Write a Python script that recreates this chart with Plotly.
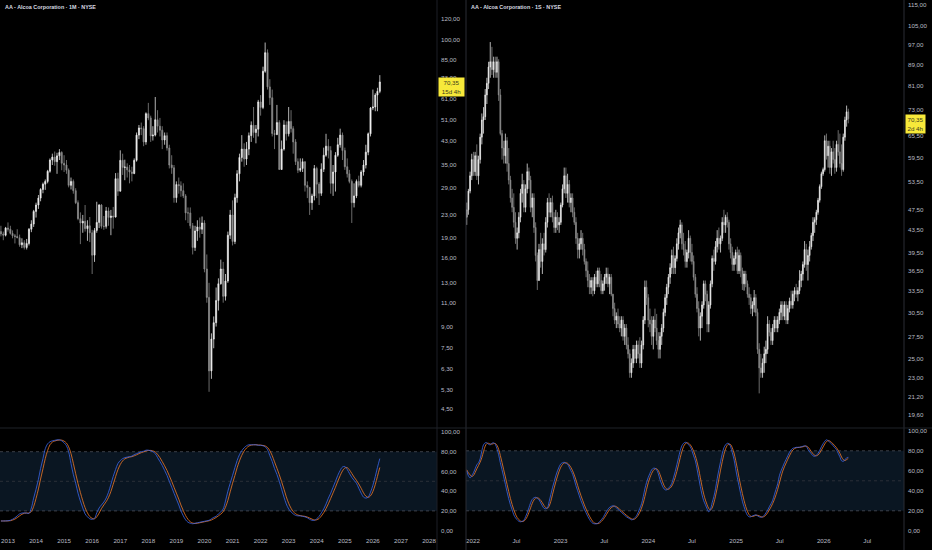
import math
import pandas as pd
import plotly.graph_objects as go

# ---------------- monthly bars (left pane, AA 1M) ----------------
m_dates = pd.date_range("2012-10-01", periods=163, freq="MS")

m_open = [20.0, 19.6, 19.4,
          20.6, 20.4, 19.7, 19.3, 19.2, 19.0, 17.9, 18.2, 17.5, 18.1, 20.4, 21.3,
          23.7, 25.0, 26.5, 28.5, 29.8, 30.5, 33.2, 36.5, 37.4, 36.0, 37.8, 38.9,
          35.5, 35.0, 33.5, 29.5, 30.5, 28.2, 25.5, 22.3, 21.5, 21.8, 20.5, 21.0,
          19.8, 16.4, 20.2, 21.6, 25.0, 20.9, 20.9, 23.8, 22.5, 22.8, 22.6, 31.2,
          28.1, 36.4, 34.3, 34.4, 33.6, 33.0, 32.6, 36.4, 45.0, 47.8, 47.5, 42.5,
          53.9, 52.0, 44.7, 45.0, 51.2, 48.5, 46.9, 43.2, 44.8, 40.4, 35.0, 34.2,
          26.6, 29.7, 29.4, 28.2, 27.0, 23.4, 23.4, 21.0, 17.5, 20.1, 20.8, 20.4,
          21.5, 14.6, 11.5, 6.2, 8.1, 9.3, 11.2, 12.9, 14.6, 11.6, 13.2, 19.4,
          23.0, 18.4, 26.6, 32.5, 37.3, 40.0, 36.8, 40.0, 44.8, 48.9, 46.0, 47.3,
          59.5, 56.8, 77.0, 90.0, 67.5, 61.6, 45.6, 45.2, 50.0, 33.7, 40.0, 49.0,
          45.5, 50.5, 47.5, 42.5, 36.0, 33.5, 34.0, 36.0, 29.5, 29.0, 25.5, 27.0,
          34.0, 29.8, 27.6, 33.8, 38.0, 41.0, 39.5, 30.0, 33.0, 38.0, 41.5, 45.0,
          39.5, 34.5, 32.5, 30.5, 25.5, 27.0, 30.5, 29.5, 33.0, 35.0, 39.0, 45.5,
          56.5, 57.0, 63.0, 65.0]
m_high = [21.0, 20.0, 20.8,
          21.6, 21.0, 20.2, 19.6, 20.4, 19.5, 18.9, 18.6, 18.8, 20.6, 22.0, 24.0,
          25.5, 27.2, 28.8, 30.2, 31.0, 33.6, 37.0, 38.5, 39.2, 38.8, 40.0, 39.3,
          38.0, 36.5, 34.0, 31.5, 31.0, 28.8, 26.0, 23.5, 23.0, 25.0, 22.0, 22.6,
          20.3, 20.6, 25.7, 25.2, 25.2, 22.8, 24.6, 24.5, 24.0, 24.6, 32.7, 32.8,
          39.6, 38.5, 36.6, 35.5, 35.0, 34.5, 37.0, 46.0, 49.0, 50.0, 48.5, 54.5,
          59.0, 53.0, 48.5, 62.0, 55.5, 52.0, 48.5, 46.0, 46.0, 41.5, 38.0, 35.0,
          30.5, 31.5, 30.5, 30.0, 27.4, 24.5, 24.5, 21.5, 21.0, 22.0, 22.5, 22.7,
          22.0, 16.5, 13.0, 8.5, 9.8, 12.5, 13.5, 15.8, 15.5, 14.0, 20.0, 24.0,
          26.0, 27.5, 33.5, 38.5, 45.0, 42.0, 42.5, 46.0, 50.5, 57.0, 49.0, 60.5,
          63.0, 80.0, 98.0, 92.5, 72.0, 66.0, 47.0, 58.0, 51.0, 43.0, 51.0, 50.5,
          57.0, 55.5, 48.5, 43.5, 37.0, 37.0, 37.0, 36.0, 30.5, 29.0, 27.5, 35.0,
          34.5, 30.3, 35.5, 40.5, 45.5, 43.5, 41.0, 35.0, 39.0, 44.0, 47.5, 46.0,
          40.5, 37.0, 33.6, 31.0, 30.0, 31.0, 32.0, 33.5, 36.5, 41.5, 46.0, 57.0,
          66.0, 64.0, 67.0, 74.5]
m_low = [19.2, 18.6, 19.2,
         20.0, 19.5, 18.9, 18.1, 18.9, 17.6, 17.4, 17.2, 17.2, 17.8, 19.9, 20.8,
         22.5, 24.2, 25.8, 27.6, 28.4, 30.0, 32.8, 35.0, 34.8, 32.5, 36.5, 33.5,
         33.0, 32.5, 29.0, 28.5, 27.5, 25.2, 22.0, 18.0, 19.8, 20.0, 18.5, 18.3,
         14.0, 15.5, 19.8, 20.6, 20.5, 20.3, 20.5, 21.0, 19.4, 20.5, 22.5, 27.0,
         28.0, 32.2, 30.8, 31.5, 30.0, 30.5, 32.4, 36.0, 43.5, 45.0, 41.0, 41.5,
         51.0, 42.5, 43.0, 44.5, 46.0, 44.5, 40.0, 41.5, 39.5, 34.0, 32.5, 25.5,
         25.5, 27.5, 26.8, 26.5, 22.0, 21.5, 20.5, 16.5, 17.0, 18.5, 19.0, 19.6,
         14.2, 11.0, 5.2, 5.8, 7.5, 9.0, 10.3, 12.8, 11.0, 11.2, 13.0, 18.8,
         17.8, 18.0, 25.5, 30.5, 36.0, 34.5, 35.0, 38.0, 42.5, 44.0, 42.0, 44.5,
         53.0, 56.0, 76.0, 66.0, 58.0, 44.5, 40.0, 45.0, 33.6, 33.6, 39.5, 43.0,
         44.5, 46.0, 38.5, 35.0, 32.7, 33.0, 33.0, 28.0, 26.5, 23.0, 24.0, 26.0,
         26.5, 25.0, 27.0, 33.0, 37.5, 37.0, 27.5, 27.0, 28.0, 37.5, 40.5, 36.5,
         33.6, 31.5, 30.0, 21.5, 24.5, 26.5, 29.0, 29.0, 32.0, 34.0, 38.0, 44.5,
         55.5, 55.0, 55.0, 64.0]
m_close = [19.6, 19.4, 20.6,
           20.4, 19.7, 19.3, 19.2, 19.0, 17.9, 18.2, 17.5, 18.1, 20.4, 21.3, 23.7,
           25.0, 26.5, 28.5, 29.8, 30.5, 33.2, 36.5, 37.4, 36.0, 37.8, 38.9, 35.5,
           35.0, 33.5, 29.5, 30.5, 28.2, 25.5, 22.3, 21.5, 21.8, 20.5, 21.0, 19.8,
           16.4, 20.2, 21.6, 25.0, 20.9, 20.9, 23.8, 22.5, 22.8, 22.6, 31.2, 28.1,
           36.4, 34.3, 34.4, 33.6, 33.0, 32.6, 36.4, 45.0, 47.8, 47.5, 42.5, 53.9,
           52.0, 44.7, 45.0, 51.2, 48.5, 46.9, 43.2, 44.8, 40.4, 35.0, 34.2, 26.6,
           29.7, 29.4, 28.2, 27.0, 23.4, 23.4, 21.0, 17.5, 20.1, 20.8, 20.4, 21.5,
           14.6, 11.5, 6.2, 8.1, 9.3, 11.2, 12.9, 14.6, 11.6, 13.2, 19.4, 23.0,
           18.4, 26.6, 32.5, 37.3, 40.0, 36.8, 40.0, 44.8, 48.9, 46.0, 47.3, 59.5,
           56.8, 77.0, 90.0, 67.5, 61.6, 45.6, 45.2, 50.0, 33.7, 40.0, 49.0, 45.5,
           50.5, 47.5, 42.5, 36.0, 33.5, 34.0, 36.0, 29.5, 29.0, 25.5, 27.0, 34.0,
           29.8, 27.6, 33.8, 38.0, 41.0, 39.5, 30.0, 33.0, 38.0, 41.5, 45.0, 39.5,
           34.5, 32.5, 30.5, 25.5, 27.0, 30.5, 29.5, 33.0, 35.0, 39.0, 45.5, 56.5,
           57.0, 63.0, 65.0, 70.35]

# Stochastic RSI (one value per month)
m_k = [9.8, 9.8, 9.9, 10, 10.5, 11.5, 13, 15, 17, 17.8,
       18, 17.8, 17.5, 23, 33, 42, 52, 63, 73, 83,
       88, 90, 91, 91.5, 92, 92, 91, 89, 86, 80,
       68, 57, 48, 38, 30, 23, 17, 14, 12, 11.5,
       12.5, 18, 23, 26, 29, 33, 39, 47, 55, 62,
       68, 71, 73, 74, 74.5, 75, 75.5, 77, 78, 79,
       80, 80.5, 81.5, 81.5, 81, 80, 78, 74, 70, 66,
       61, 56, 50, 44, 38, 32, 26, 20, 15, 11,
       8.5, 7.5, 7, 7.5, 8, 8.5, 9, 9.5, 10, 10.5,
       12, 13.5, 14.5, 17, 19, 22, 30, 40, 48, 56,
       64, 71, 77, 81, 84, 86, 87, 87, 87, 87,
       86.5, 86.5, 86, 85, 82, 76, 70, 63, 57, 50,
       42, 34, 27, 22, 19, 17, 15.5, 15, 15, 14.5,
       14, 13, 11.5, 10.5, 10.5, 12, 14.5, 18, 22, 27,
       33, 38, 44, 50, 56, 61, 64.5, 65, 62, 58,
       54, 51, 48, 43, 38, 34, 33, 34, 39, 46,
       55, 64, 73]
m_d = [9.8, 9.8, 9.8, 9.9, 10.1, 10.7, 11.7, 13.2, 15, 16.6,
       17.6, 17.9, 17.8, 19.4, 24.5, 32.7, 42.3, 52.3, 62.7, 73,
       81.3, 87, 89.7, 90.8, 91.5, 91.8, 91.7, 90.7, 88.7, 85,
       78, 68.3, 57.7, 47.7, 38.7, 30.3, 23.3, 18, 14.3, 12.5,
       12, 14, 17.8, 22.3, 26, 29.3, 33.7, 39.7, 47, 54.7,
       61.7, 67, 70.7, 72.7, 73.8, 74.5, 75, 75.8, 76.8, 78,
       79, 79.8, 80.7, 81.2, 81.3, 80.8, 79.7, 77.3, 74, 70,
       65.7, 61, 55.7, 50, 44, 38, 32, 26, 20.3, 15.3,
       11.5, 9, 7.7, 7.3, 7.5, 8, 8.5, 9, 9.5, 10,
       10.8, 12, 13.3, 15, 16.8, 19.3, 23.7, 30.7, 39.3, 48,
       56, 63.7, 70.7, 76.3, 80.7, 83.7, 85.7, 86.7, 87, 87,
       86.8, 86.7, 86.3, 85.8, 84.3, 81, 76, 69.7, 63.3, 56.7,
       49.7, 42, 34.3, 27.7, 22.7, 19.3, 17.2, 15.8, 15.2, 14.8,
       14.5, 13.8, 12.8, 11.7, 10.8, 11, 12.3, 14.8, 18.2, 22.3,
       27.3, 32.7, 38.3, 44, 50, 55.7, 60.5, 63.5, 63.8, 61.7,
       58, 54.3, 51, 47.3, 43, 38.3, 35, 33.7, 35.3, 39.7,
       46.7, 55, 64]

# ---------------- weekly bars (right pane, AA 1S) ----------------
w_dates = pd.date_range("2021-12-06", periods=228, freq="7D")

w_open = [46, 47.5, 51.5, 55, 59, 56, 60, 55, 59, 65,
          70, 71, 78, 82, 88, 90, 87, 90, 86, 90,
          78, 66, 62, 60, 64, 58, 54, 50, 48, 45,
          42, 43, 46, 51, 53, 48, 52, 56, 54, 48,
          50, 44, 39, 35, 40, 38, 41, 40, 45, 49,
          47, 49, 46, 44, 46, 44.5, 45, 48.5, 52, 55,
          51, 53, 49, 50, 47, 45, 42, 40, 41, 42,
          40, 38, 36.5, 35, 34, 35, 33.5, 35.5, 34.5, 36.5,
          35, 33.5, 34.5, 35.5, 36, 34.5, 35.5, 33, 31, 29.5,
          30, 29, 28.5, 29.5, 27.5, 28.5, 26.5, 25.5, 23.5, 24.5,
          26, 25, 26.5, 25.5, 24.5, 26.5, 29.5, 34, 32.5, 29.5,
          29, 27.5, 29.5, 28.5, 27, 26, 27.5, 28.5, 30.5, 32.5,
          34, 35.5, 37, 39, 37, 38.5, 41, 43, 44.5, 41,
          40, 38, 39.5, 42, 39.5, 38, 35.5, 33, 31, 28.5,
          30, 31.5, 34.5, 33, 29, 31.5, 34.5, 38.5, 38, 40.5,
          42, 41, 42, 45, 44.5, 46, 45, 41, 39.5, 37.5,
          38.5, 39.5, 36.5, 39, 36.5, 34.5, 36, 34.5, 33, 32.5,
          31, 31.5, 32.5, 30.5, 26, 24, 23.5, 24.5, 25.5, 26,
          29, 28, 27, 28.5, 29.5, 28.5, 29.5, 30.5, 31.5, 30,
          31.5, 29.5, 31, 32, 31.5, 33, 33.5, 33, 33.5, 35,
          36, 37.5, 40, 37.5, 39, 40.5, 42.5, 45, 45.5, 47,
          49.5, 52.5, 55.5, 56.5, 64, 60, 62.5, 57, 61, 59,
          57, 63, 61, 58, 56.5, 65, 70, 72.5]
w_high = [49, 52, 56, 60.5, 61, 61, 63, 60, 66, 72,
          74, 80, 84, 90, 98, 96, 92, 92, 92, 91,
          80, 67, 64, 66, 65, 62, 55, 52, 51, 47,
          44, 47, 52, 55.5, 54, 53, 58, 57, 55, 51,
          51, 45, 39.5, 41, 43, 42, 43, 46, 50, 51,
          50, 50.5, 47, 47.5, 47, 46, 49, 53, 57, 57,
          55.5, 54, 51, 51, 48, 46, 43, 42, 43.5, 43,
          41, 38.5, 38, 36, 35.5, 35.5, 36, 36.5, 37, 37,
          36, 35, 36, 37, 37, 36, 36, 33, 31.8, 30.5,
          31, 30, 30, 30, 29, 29, 27.4, 26, 25, 26.5,
          26.5, 27, 27, 27.4, 27, 30, 35, 35, 33, 31,
          30, 30, 31, 30.3, 28, 28, 29, 31, 33, 34.5,
          36, 37.7, 40, 40.5, 39, 42, 44, 45.5, 45, 43,
          41.5, 40, 43.5, 42.5, 41, 39, 36, 34, 32, 30.5,
          32, 35, 35, 33.5, 32, 35, 39, 40, 41.5, 43.5,
          44, 42.5, 46, 47.5, 46.5, 47, 45.5, 42, 40.5, 39,
          40, 40.5, 40, 39.5, 37, 36.5, 36.5, 35, 34, 33,
          32, 33.6, 33, 31, 26.7, 25.5, 25, 26.3, 27, 30,
          29.5, 28.5, 29, 30, 30, 30, 31, 32, 32, 32,
          32, 31.5, 32.5, 33.5, 33.5, 34, 34.5, 34, 36.6, 36.5,
          38, 41.5, 41, 40, 41.5, 43, 46, 46, 47.5, 50,
          53, 56, 57, 65.5, 66, 64, 64, 62, 64, 62,
          64, 67, 66, 63, 66, 71, 74.5, 73.5]
w_low = [44.5, 46.5, 51, 54, 55, 55, 54, 53, 58, 63,
         66, 70, 75, 80, 84, 85, 84, 84, 84, 76,
         65.5, 59, 58, 58, 56, 53, 49, 47, 44, 41,
         40, 42, 45, 49, 47, 47, 51, 52, 47, 46,
         43, 38, 33.6, 35, 37, 36, 39, 39.5, 44, 46,
         46, 45, 43, 43, 43.5, 43, 44.5, 48, 51, 50,
         49, 48, 47, 46, 44.5, 41, 38.5, 38.5, 40, 39,
         37.5, 35.5, 34, 33, 33, 32.7, 33, 34, 34, 34,
         33, 33, 33.5, 34.5, 34, 33, 32.7, 30, 29, 28.5,
         28.5, 28, 27.5, 27, 26.5, 26, 25, 23, 23, 24,
         24.5, 24.5, 25, 24, 24, 26, 29, 31.5, 28.6, 28,
         26.5, 26, 28, 26.5, 25, 25, 26.5, 28, 30, 31.5,
         33, 34.5, 36, 36, 36, 38, 40, 42, 40, 39,
         37, 37, 38.5, 38, 37.5, 35, 32.5, 30.5, 27.5, 27,
         28.5, 31, 32, 28, 28, 31, 34, 36.5, 37.5, 39.5,
         40, 39.5, 41.5, 43, 43, 44, 40, 38.5, 36.5, 36.5,
         37.5, 36, 36, 35.5, 33.6, 33.5, 34, 32.5, 31.5, 30.3,
         30, 30.5, 30, 25.5, 21.5, 23, 23, 23.5, 24.5, 25.5,
         27.5, 26.5, 26.5, 28, 28, 28, 29, 29.5, 29.5, 29.5,
         29, 29, 30.5, 31, 31, 32, 32.5, 32, 33, 34,
         35, 37, 36.5, 35, 38, 40, 41.5, 43, 44.5, 46.5,
         49, 52, 55, 56, 59, 57, 55.5, 55, 58, 55.5,
         56, 60, 57, 55, 56, 64, 68, 69]
w_close = [47.5, 51.5, 55, 59, 56, 60, 55, 59, 65, 70,
           71, 78, 82, 88, 90, 87, 90, 86, 90, 78,
           66, 62, 60, 64, 58, 54, 50, 48, 45, 42,
           43, 46, 51, 53, 48, 52, 56, 54, 48, 50,
           44, 39, 35, 40, 38, 41, 40, 45, 49, 47,
           49, 46, 44, 46, 44.5, 45, 48.5, 52, 55, 51,
           53, 49, 50, 47, 45, 42, 40, 41, 42, 40,
           38, 36.5, 35, 34, 35, 33.5, 35.5, 34.5, 36.5, 35,
           33.5, 34.5, 35.5, 36, 34.5, 35.5, 33, 31, 29.5, 30,
           29, 28.5, 29.5, 27.5, 28.5, 26.5, 25.5, 23.5, 24.5, 26,
           25, 26.5, 25.5, 24.5, 26.5, 29.5, 34, 32.5, 29.5, 29,
           27.5, 29.5, 28.5, 27, 26, 27.5, 28.5, 30.5, 32.5, 34,
           35.5, 37, 39, 37, 38.5, 41, 43, 44.5, 41, 40,
           38, 39.5, 42, 39.5, 38, 35.5, 33, 31, 28.5, 30,
           31.5, 34.5, 33, 29, 31.5, 34.5, 38.5, 38, 40.5, 42,
           41, 42, 45, 44.5, 46, 45, 41, 39.5, 37.5, 38.5,
           39.5, 36.5, 39, 36.5, 34.5, 36, 34.5, 33, 32.5, 31,
           31.5, 32.5, 30.5, 26, 24, 23.5, 24.5, 25.5, 26, 29,
           28, 27, 28.5, 29.5, 28.5, 29.5, 30.5, 31.5, 30, 31.5,
           29.5, 31, 32, 31.5, 33, 33.5, 33, 33.5, 35, 36,
           37.5, 40, 37.5, 39, 40.5, 42.5, 45, 45.5, 47, 49.5,
           52.5, 55.5, 56.5, 64, 60, 62.5, 57, 61, 59, 57,
           63, 61, 58, 56.5, 65, 70, 72.5, 70.35]

# Stochastic RSI (one value per week)
w_k = [60, 55, 53, 55, 58, 62, 66, 68, 72, 80,
       86, 88, 88, 86.5, 86, 87.5, 88, 86.5, 82, 76,
       68, 61, 54, 46.5, 39, 32, 26, 21, 16, 13,
       11, 9.5, 9, 9.5, 10.5, 14, 18, 23, 28, 31.5,
       33, 33.5, 32.5, 31, 28, 25, 22.5, 22, 23, 29,
       36, 43, 49, 55, 60, 64, 67, 68, 68.5, 67.5,
       66.5, 63.5, 60, 56.5, 51, 45, 40, 35, 30, 26,
       21.5, 18, 14.5, 11.5, 9, 7.5, 7, 7, 7.5, 9,
       11, 13, 16, 19, 21.5, 23.5, 24.5, 25, 24.5, 23,
       21.5, 20, 18.5, 17, 15.5, 14, 13, 12, 11, 11.5,
       13, 15, 18.5, 22.5, 27, 34, 42, 48.5, 53.5, 57.5,
       61, 62.5, 62.5, 61, 57, 51, 46.5, 43, 41, 41,
       42.5, 44.5, 47.5, 53, 59, 66, 73, 80, 85, 87.5,
       88.5, 88, 86, 84, 80, 75, 70, 62, 53, 44,
       36, 30, 26, 22, 19, 21.5, 28, 34, 42, 52,
       61, 69, 77, 83, 86, 87.5, 87, 84, 78, 71.5,
       62, 53, 45, 37, 29.5, 24, 19, 15.5, 14, 14,
       15, 15.5, 16, 15, 14, 13.5, 14, 15.5, 18, 20.5,
       24, 27, 30.5, 36, 41.5, 47, 55, 60, 64, 68,
       71.5, 75, 78.5, 81, 82.5, 83, 83.5, 83.5, 83.5, 84,
       84.5, 85, 84.5, 81.5, 79, 77, 75, 74.5, 75.5, 77.5,
       80.5, 84, 87, 89.5, 91, 90, 88.5, 87, 85, 83,
       81, 77.5, 74, 70, 69.5, 71, 73, 73.5]
w_d = [61, 58, 56, 54.3, 55.3, 58.3, 62, 65.3, 68.7, 73.3,
       79.3, 84.7, 87.3, 87.5, 86.8, 86.7, 87.2, 87.3, 85.5, 81.5,
       75.3, 68.3, 61, 53.8, 46.5, 39.2, 32.3, 26.3, 21, 16.7,
       13.3, 11.2, 9.8, 9.3, 9.7, 11.3, 14.2, 18.3, 23, 27.5,
       30.8, 32.7, 33, 32.3, 30.5, 28, 25.2, 23.2, 22.5, 24.7,
       29.3, 36, 42.7, 49, 54.7, 59.7, 63.7, 66.3, 67.8, 68,
       67.5, 65.8, 63.3, 60, 55.8, 50.8, 45.3, 40, 35, 30.3,
       25.8, 21.8, 18, 14.7, 11.7, 9.3, 7.8, 7.2, 7.2, 7.8,
       9.2, 11, 13.3, 16, 18.8, 21.3, 23.2, 24.3, 24.7, 24.2,
       23, 21.5, 20, 18.5, 17, 15.5, 14.2, 13, 12, 11.5,
       11.8, 13.2, 15.5, 18.7, 22.7, 27.8, 34.3, 41.5, 48, 53.2,
       57.3, 60.3, 62, 62, 60.2, 56.3, 51.5, 46.8, 43.5, 41.7,
       41.5, 42.7, 44.8, 48.3, 53.2, 59.3, 66, 73, 79.3, 84.2,
       87, 88, 87.5, 86, 83.3, 79.7, 75, 69, 61.7, 53,
       44.3, 36.7, 30.7, 26, 22.3, 20.8, 22.8, 27.8, 34.7, 42.7,
       51.7, 60.7, 69, 76.3, 82, 85.5, 86.8, 86.2, 83, 77.8,
       70.5, 62.2, 53.3, 45, 37.2, 30.2, 24.2, 19.5, 16.2, 14.5,
       14.3, 14.8, 15.5, 15.5, 15, 14.2, 13.8, 14.3, 15.8, 18,
       20.8, 23.8, 27.2, 31.2, 36, 41.5, 47.8, 54, 59.7, 64,
       67.8, 71.5, 75, 78.2, 80.7, 82.2, 83, 83.3, 83.5, 83.7,
       84, 84.5, 84.7, 83.7, 81.7, 79.2, 77, 75.5, 75, 75.8,
       77.8, 80.7, 83.8, 86.8, 89.2, 90.2, 89.8, 88.5, 86.8, 85,
       83, 80.5, 77.5, 73.8, 71.2, 70.2, 71.2, 72.5]

# ---------------- axes text ----------------
left_price_ticks = [4.5, 5.3, 6.3, 7.5, 9, 11, 13, 16, 19, 23, 29, 35, 43, 51,
                    61, 73, 85, 100, 120, 140]
right_price_ticks = [19.6, 21.2, 23, 25, 27.5, 30.5, 33.5, 36.5, 39.5, 43.5,
                     47.5, 53.5, 59.5, 65.5, 73, 81, 89, 97, 105, 115]
stoch_ticks = [0, 20, 40, 60, 80, 100]
stoch_levels = [20, 50, 80]
left_year_ticks = [f"{y}-01-01" for y in range(2013, 2029)]
right_date_ticks = ["2022-01-01", "2022-07-01", "2023-01-01", "2023-07-01",
                    "2024-01-01", "2024-07-01", "2025-01-01", "2025-07-01",
                    "2026-01-01", "2026-07-01"]
right_date_text = ["2022", "Jul", "2023", "Jul", "2024", "Jul", "2025", "Jul",
                   "2026", "Jul"]
left_title = "AA - Alcoa Corporation · 1M · NYSE"
right_title = "AA - Alcoa Corporation · 1S · NYSE"
last_price = 70.35
left_countdown = "15d 4h"
right_countdown = "2d 4h"

# ---------------- figure ----------------
W, H = 932, 550
BG = "#000000"
TXT = "#b8bbc4"
FONT = "Liberation Sans"
UP, DOWN = "#efefef", "#8e8e8e"
K_COL, D_COL = "#3a66e8", "#f07a2a"


def px_x(p):
    return p / W


def px_y(p):
    return 1 - p / H


left_dom = [0, px_x(437)]
right_dom = [px_x(466), px_x(904)]
price_dom = [px_y(428), 1]
stoch_dom = [px_y(535), px_y(428)]

fig = go.Figure()


def candles(x, o, h, l, c, xa, ya):
    return go.Candlestick(
        x=x, open=o, high=h, low=l, close=c, xaxis=xa, yaxis=ya,
        increasing=dict(line=dict(color=UP, width=0.75), fillcolor=UP),
        decreasing=dict(line=dict(color=DOWN, width=0.75), fillcolor=DOWN),
        showlegend=False, hoverinfo="skip")


fig.add_trace(candles(m_dates, m_open, m_high, m_low, m_close, "x", "y"))
fig.add_trace(candles(w_dates, w_open, w_high, w_low, w_close, "x2", "y2"))

for xs, k, d, xa, ya in [(m_dates, m_k, m_d, "x3", "y3"),
                         (w_dates, w_k, w_d, "x4", "y4")]:
    fig.add_trace(go.Scatter(x=xs, y=d, mode="lines", xaxis=xa, yaxis=ya,
                             line=dict(color=D_COL, width=0.8, shape="spline"),
                             showlegend=False, hoverinfo="skip"))
    fig.add_trace(go.Scatter(x=xs, y=k, mode="lines", xaxis=xa, yaxis=ya,
                             line=dict(color=K_COL, width=0.8, shape="spline"),
                             showlegend=False, hoverinfo="skip"))

tick_font = dict(family=FONT, size=6.2, color=TXT)
left_range = ["2012-09-19", "2028-04-14"]
right_range = ["2021-12-03", "2026-12-01"]

common_x = dict(showgrid=False, zeroline=False, showline=False, ticks="",
                rangeslider=dict(visible=False), fixedrange=True)
common_y = dict(showgrid=False, zeroline=False, showline=False, ticks="",
                side="right", tickfont=tick_font, tickformat=".2f",
                ticklabelstandoff=3, fixedrange=True)

fig.update_layout(
    width=W, height=H, autosize=False,
    margin=dict(l=0, r=0, t=0, b=0),
    paper_bgcolor=BG, plot_bgcolor=BG,
    separators=",.",
    font=dict(family=FONT, color=TXT),
    xaxis=dict(domain=left_dom, anchor="y", range=left_range,
               showticklabels=False, **common_x),
    xaxis2=dict(domain=right_dom, anchor="y2", range=right_range,
                showticklabels=False, **common_x),
    xaxis3=dict(domain=left_dom, anchor="y3", range=left_range,
                tickvals=left_year_ticks, tickformat="%Y", tickfont=tick_font,
                ticklabelstandoff=1, **common_x),
    xaxis4=dict(domain=right_dom, anchor="y4", range=right_range,
                tickvals=right_date_ticks, ticktext=right_date_text,
                tickfont=tick_font, ticklabelstandoff=1, **common_x),
    yaxis=dict(domain=price_dom, anchor="x", type="log",
               range=[0.5839, 2.1465], tickvals=left_price_ticks, **common_y),
    yaxis2=dict(domain=price_dom, anchor="x2", type="log",
                range=[1.2675, 2.0701], tickvals=right_price_ticks, **common_y),
    yaxis3=dict(domain=stoch_dom, anchor="x3", range=[-4.4, 104],
                tickvals=stoch_ticks, **common_y),
    yaxis4=dict(domain=stoch_dom, anchor="x4", range=[-4.2, 102.8],
                tickvals=stoch_ticks, **common_y),
)

shapes = []
# overbought/oversold band and level lines in both oscillator panes
for xa, ya in [("x3", "y3"), ("x4", "y4")]:
    shapes.append(dict(type="rect", xref=f"{xa} domain", yref=ya,
                       x0=0, x1=1, y0=stoch_levels[0], y1=stoch_levels[2],
                       fillcolor="#0a1622", line=dict(width=0), layer="below"))
    for lv in stoch_levels:
        shapes.append(dict(type="line", xref=f"{xa} domain", yref=ya,
                           x0=0, x1=1, y0=lv, y1=lv, layer="below",
                           line=dict(color="#4a4e58" if lv != 50 else "#33363e",
                                     width=0.8, dash="3px,3px")))
# pane separators
for xp, col in [(437, "#1c1f26"), (466, "#2a2d35"), (904, "#2a2d35")]:
    shapes.append(dict(type="line", xref="paper", yref="paper",
                       x0=px_x(xp), x1=px_x(xp), y0=0, y1=1,
                       line=dict(color=col, width=1)))
shapes.append(dict(type="line", xref="paper", yref="paper", x0=0, x1=1,
                   y0=px_y(428), y1=px_y(428),
                   line=dict(color="#1f2229", width=1)))
fig.update_layout(shapes=shapes)

title_font = dict(family=FONT, size=5.4, color="#d9dbe0", weight="bold")
annotations = [
    dict(text=left_title, xref="paper", yref="paper", x=px_x(3), y=px_y(7),
         xanchor="left", yanchor="middle", showarrow=False, font=title_font),
    dict(text=right_title, xref="paper", yref="paper", x=px_x(469), y=px_y(7),
         xanchor="left", yanchor="middle", showarrow=False, font=title_font),
]
price_txt = f"{last_price:.2f}".replace(".", ",")
for xp, ya, cd, wbox, shift in [(438, "y", left_countdown, 25, 5),
                                (905, "y2", right_countdown, 19, 4.5)]:
    annotations.append(dict(
        text=f"{price_txt}<br>{cd}", xref="paper", yref=ya,
        x=px_x(xp), y=math.log10(last_price), xanchor="left", yanchor="top",
        yshift=shift, showarrow=False, align="center",
        width=wbox, height=18, bgcolor="#f7e93a", borderpad=0,
        font=dict(family=FONT, size=6.2, color="#3b3a1a")))
fig.update_layout(annotations=annotations)

fig.write_html("out.html", config={"displayModeBar": False},
               post_script="document.body.style.margin='0';"
                           "document.body.style.overflow='hidden';")
